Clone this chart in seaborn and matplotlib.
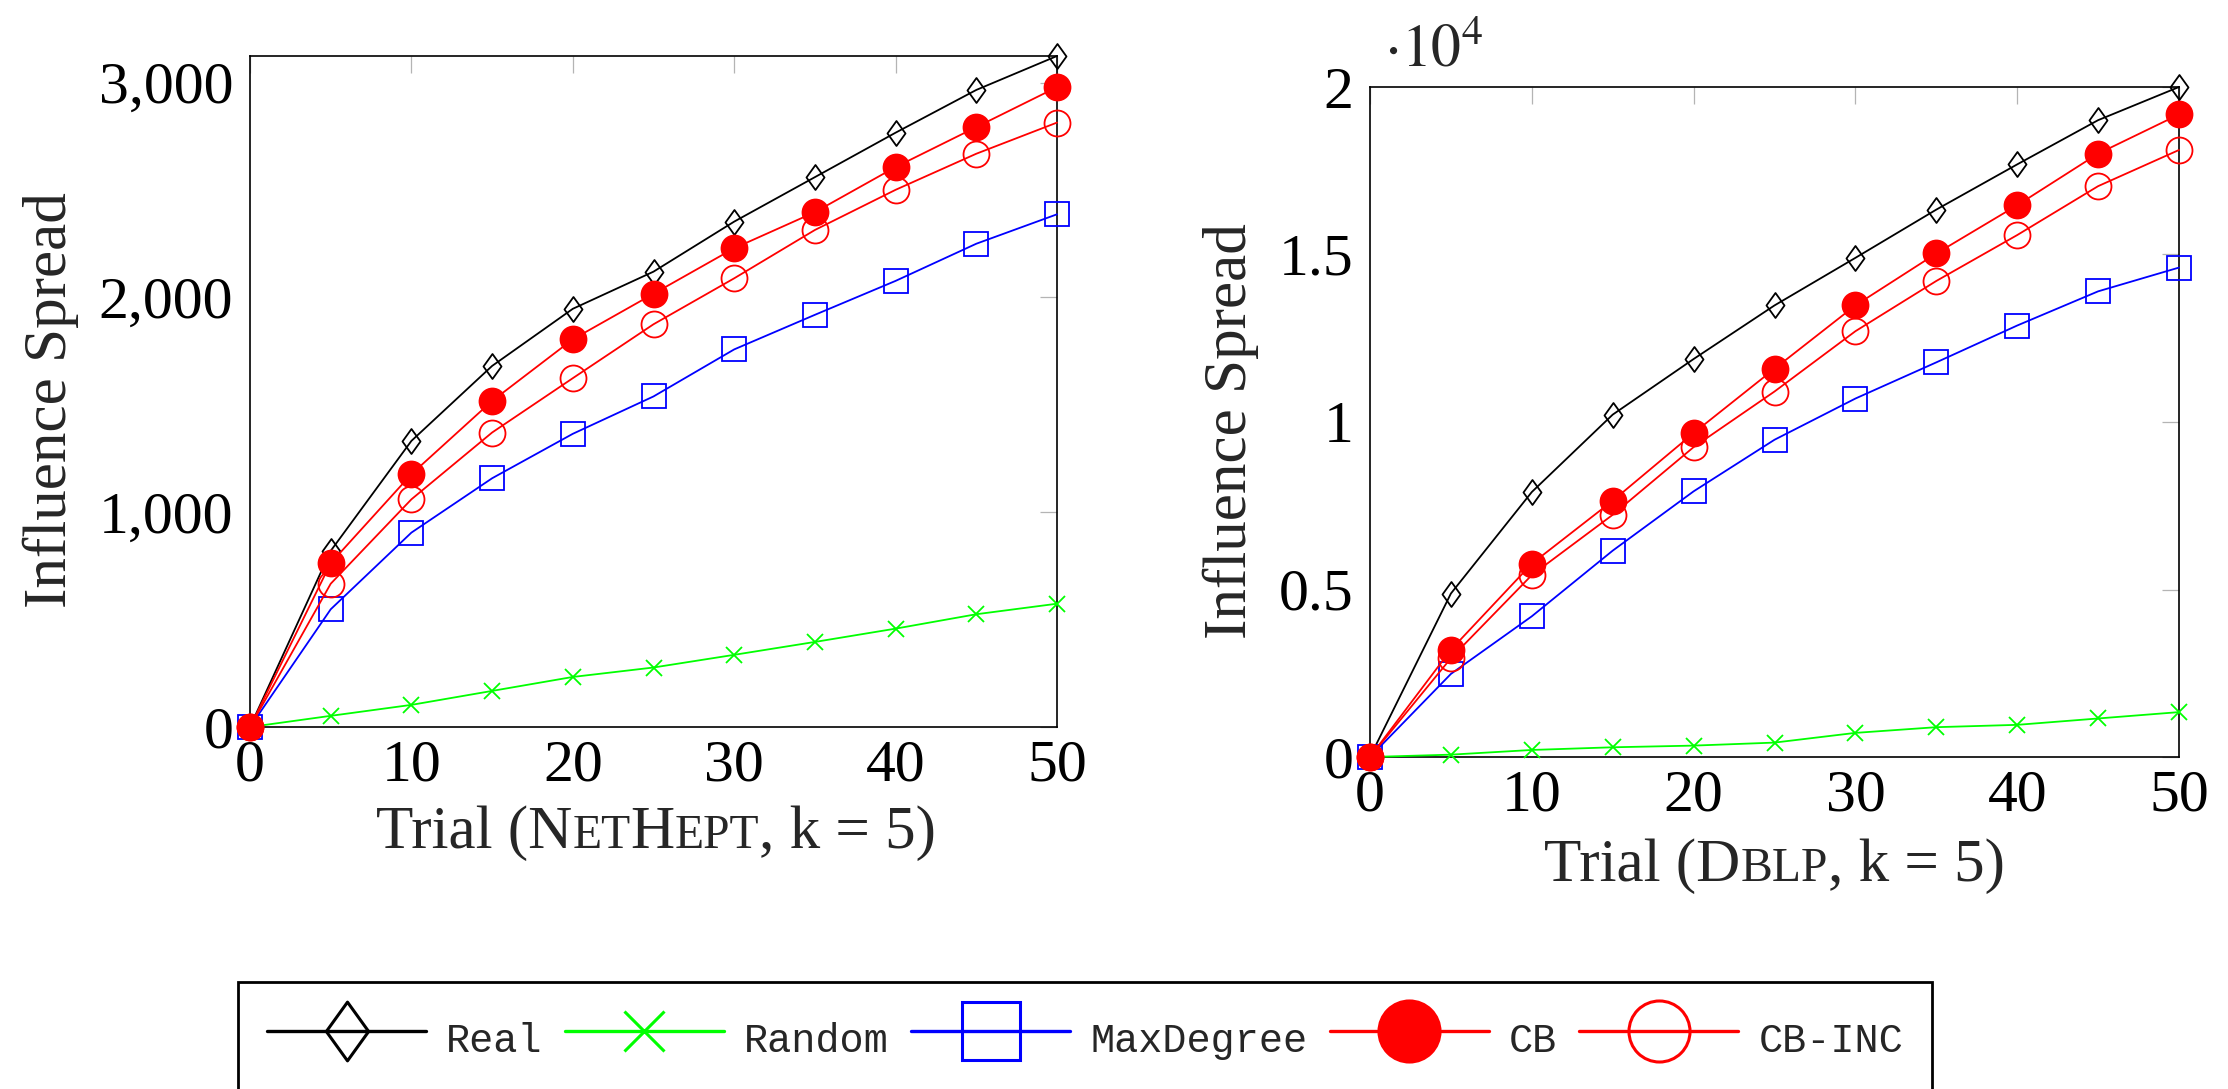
import numpy as np
import pandas as pd
import seaborn as sns
import matplotlib
matplotlib.use("Agg")
import matplotlib.pyplot as plt
from matplotlib.path import Path
from matplotlib.lines import Line2D
from matplotlib.ticker import FixedLocator, FuncFormatter

# ---- data -------------------------------------------------------------
trials = [0, 5, 10, 15, 20, 25, 30, 35, 40, 45, 50]

series_names = ["Real", "Random", "MaxDegree", "CB", "CB-INC"]

nethept_real = [0, 820, 1332, 1681, 1947, 2120, 2353, 2560, 2767, 2966, 3124]
nethept_random = [0, 52, 103, 168, 233, 277, 336, 396, 458, 525, 574]
nethept_maxdegree = [0, 548, 905, 1158, 1365, 1539, 1758, 1919, 2077, 2250, 2387]
nethept_cb = [0, 763, 1177, 1518, 1805, 2017, 2229, 2397, 2607, 2793, 2979]
nethept_cbinc = [0, 667, 1060, 1371, 1624, 1875, 2089, 2314, 2501, 2669, 2814]

dblp_real = [0, 4880, 7910, 10220, 11880, 13480, 14900, 16340, 17690, 19010, 20000]
dblp_random = [0, 70, 210, 290, 340, 430, 720, 890, 960, 1150, 1340]
dblp_maxdegree = [0, 2480, 4200, 6160, 7930, 9470, 10700, 11780, 12880, 13900, 14610]
dblp_cb = [0, 3200, 5770, 7650, 9670, 11590, 13480, 15030, 16470, 18010, 19180]
dblp_cbinc = [0, 2950, 5430, 7230, 9250, 10910, 12710, 14210, 15580, 17040, 18120]

nethept_yticks = [0, 1000, 2000, 3000]
dblp_yticks = [0, 5000, 10000, 15000, 20000]
xticks = [0, 10, 20, 30, 40, 50]

# ---- style ------------------------------------------------------------
sns.set_theme(style="white")
plt.rcParams["font.family"] = ["Liberation Serif", "DejaVu Serif"]
plt.rcParams["mathtext.fontset"] = "stix"

W, H, DPI = 2228, 1089, 100
fig = plt.figure(figsize=(W / DPI, H / DPI), dpi=DPI)

ax1 = fig.add_axes([250 / W, 1 - 727 / H, 807 / W, 671 / H])
ax2 = fig.add_axes([1370 / W, 1 - 757 / H, 809 / W, 670 / H])

diamond = Path([(0, 1), (0.72, 0), (0, -1), (-0.72, 0), (0, 1)],
               [Path.MOVETO, Path.LINETO, Path.LINETO, Path.LINETO, Path.CLOSEPOLY])

styles = {
    "Real": dict(color="black", marker=diamond, ms=18, mfc="none"),
    "Random": dict(color="#00ff00", marker="x", ms=12, mfc="none"),
    "MaxDegree": dict(color="#0000ff", marker="s", ms=17.5, mfc="none"),
    "CB": dict(color="#ff0000", marker="o", ms=18.7, mfc="#ff0000"),
    "CB-INC": dict(color="#ff0000", marker="o", ms=18.7, mfc="none"),
}

panels = [
    (ax1, [nethept_real, nethept_random, nethept_maxdegree, nethept_cb, nethept_cbinc]),
    (ax2, [dblp_real, dblp_random, dblp_maxdegree, dblp_cb, dblp_cbinc]),
]

for ax, values in panels:
    for name, vals in zip(series_names, values):
        st = styles[name]
        sns.lineplot(x=trials, y=vals, ax=ax, color=st["color"], linewidth=1.3,
                     marker=st["marker"], markersize=st["ms"],
                     markerfacecolor=st["mfc"], markeredgecolor=st["color"],
                     markeredgewidth=1.3, clip_on=False, zorder=3)
    if ax.get_legend() is not None:
        ax.get_legend().remove()
    ax.set_xlim(0, 50)
    ymax = max(max(v) for v in values)
    ax.set_ylim(0, ymax)
    ax.xaxis.set_major_locator(FixedLocator(xticks))
    ax.tick_params(axis="both", which="both", direction="in", length=12, width=0.9,
                   color="#b4b4b4", top=True, right=True, labelsize=43,
                   labelcolor="black")
    ax.tick_params(axis="x", pad=9)
    ax.tick_params(axis="y", pad=12)
    for sp in ax.spines.values():
        sp.set_color("black")
        sp.set_linewidth(1.2)
        sp.set_zorder(2.5)
    ax.set_xlabel("")
    ax.set_ylabel("Influence Spread", fontsize=44)
    ax.yaxis.label.set_verticalalignment("center")

ax1.yaxis.set_major_locator(FixedLocator(nethept_yticks))
ax1.yaxis.set_major_formatter(FuncFormatter(lambda v, p: f"{v:,.0f}"))
ax2.yaxis.set_major_locator(FixedLocator(dblp_yticks))
ax2.yaxis.set_major_formatter(FuncFormatter(lambda v, p: f"{v / 1e4:g}"))

ax1.yaxis.set_label_coords((51 - 250) / 807, 0.487)
ax2.yaxis.set_label_coords((1231 - 1370) / 809, 0.487)

# scale multiplier above the DBLP axis
fig.text(1384 / W, 1 - 65 / H, r"$\cdot 10^{4}$", fontsize=43, ha="left", va="baseline")

# x labels with small-caps dataset names
def small_caps_label(pieces, cx_px, base_px, size=44, sc=0.78):
    renderer = fig.canvas.get_renderer()
    texts = []
    for s, small in pieces:
        t = fig.text(0, 1 - base_px / H, s, fontsize=size * (sc if small else 1.0),
                     ha="left", va="baseline")
        texts.append(t)
    widths = [t.get_window_extent(renderer).width for t in texts]
    x = cx_px - sum(widths) / 2
    for t, w in zip(texts, widths):
        t.set_x(x / W)
        x += w

small_caps_label([("Trial (N", False), ("ET", True), ("H", False), ("EPT", True),
                  (", k = 5)", False)], 656, 848)
small_caps_label([("Trial (D", False), ("BLP", True), (", k = 5)", False)], 1774.5, 881)

# shared legend
handles = []
for name in series_names:
    st = styles[name]
    handles.append(Line2D([], [], color=st["color"], linewidth=2.4, marker=st["marker"],
                          markersize=st["ms"] * 2.35, markerfacecolor=st["mfc"],
                          markeredgecolor=st["color"], markeredgewidth=2.2))
leg = fig.legend(handles, series_names, loc="upper left",
                 bbox_to_anchor=(238 / W, 1 - 982 / H), ncol=5, frameon=True,
                 fancybox=False, borderaxespad=0, borderpad=0.72,
                 handlelength=3.95, handleheight=1.75, handletextpad=0.5,
                 columnspacing=0.55,
                 prop={"family": ["Liberation Mono", "DejaVu Sans Mono"], "size": 29})
leg.get_frame().set_edgecolor("black")
leg.get_frame().set_linewidth(2.0)
leg.get_frame().set_alpha(1)

fig.savefig("out.png", dpi=DPI)
